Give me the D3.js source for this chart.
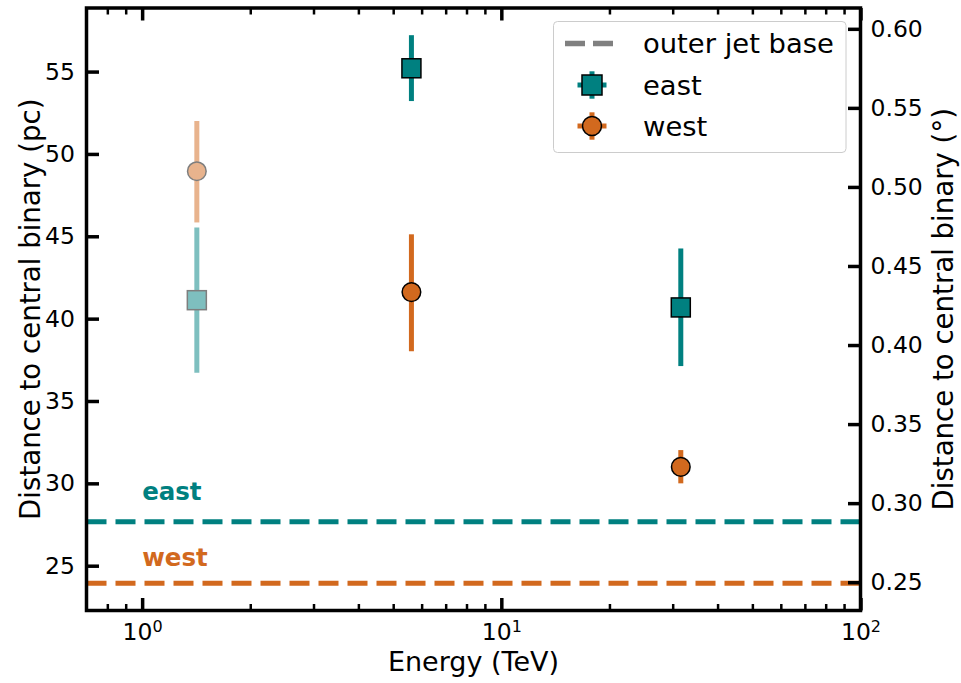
<!DOCTYPE html>
<html>
<head>
<meta charset="utf-8">
<title>Distance to central binary vs energy</title>
<script src="https://d3js.org/d3.v7.min.js"></script>
<style>
  body { margin: 0; background: #fff; }
  text { font-family: "DejaVu Sans", sans-serif; fill: #000; }
</style>
</head>
<body>
<div id="chart"></div>
<script>
// data
var energy   = [1.42, 5.62, 31.6];          // TeV
var eastDist = [41.12, 55.20, 40.68];       // pc
var eastLo   = [36.71, 53.21, 37.12];
var eastHi   = [45.53, 57.21, 44.26];
var westDist = [48.95, 41.61, 31.00];
var westLo   = [45.84, 38.02, 30.00];
var westHi   = [52.00, 45.12, 32.02];
var faded    = [true, false, false];

var jetSides = ["east", "west"];
var jetBase  = [27.67, 23.93];              // pc, outer jet base
var jetLabelY = [29.0, 25.0];

var yTicks   = [25, 30, 35, 40, 45, 50, 55];
var degTicks = [0.25, 0.30, 0.35, 0.40, 0.45, 0.50, 0.55, 0.60];
var xMajor   = [1, 10, 100];
var xMinor   = [0.8, 0.9, 2, 3, 4, 5, 6, 7, 8, 9, 20, 30, 40, 50, 60, 70, 80, 90];
var legendLabels = ["outer jet base", "east", "west"];

var distKpc = 5.5;   // source distance, converts pc to degrees

var colors = { east: "#008080", west: "#d2691e", grey: "#808080" };

var W = 961, H = 683;
var L = 86.5, R = 860.5, T = 8, B = 610.5;

var svg = d3.select("#chart").append("svg")
  .attr("width", W).attr("height", H);

var x = d3.scaleLog().domain([0.7, 100]).range([L, R]);
var y = d3.scaleLinear().domain([22.28, 58.86]).range([B, T]);
var k = 180 / (Math.PI * distKpc * 1000);
var yDeg = d3.scaleLinear().domain([22.28 * k, 58.86 * k]).range([B, T]);

// horizontal outer jet base lines
jetSides.forEach(function (s, i) {
  svg.append("line")
    .attr("x1", L).attr("x2", R)
    .attr("y1", y(jetBase[i])).attr("y2", y(jetBase[i]))
    .attr("stroke", colors[s]).attr("stroke-width", 5)
    .attr("stroke-dasharray", "20,9");
  svg.append("text")
    .attr("x", x(1)).attr("y", y(jetLabelY[i]))
    .style("font-size", "24.5px").style("font-weight", "bold")
    .style("fill", colors[s])
    .text(s);
});

// error bars + markers
function drawSeries(dist, lo, hi, color, shape) {
  energy.forEach(function (e, i) {
    var g = svg.append("g").attr("opacity", faded[i] ? 0.5 : 1);
    g.append("line")
      .attr("x1", x(e)).attr("x2", x(e))
      .attr("y1", y(lo[i])).attr("y2", y(hi[i]))
      .attr("stroke", color).attr("stroke-width", 5);
    if (shape === "square") {
      g.append("rect")
        .attr("x", x(e) - 9.5).attr("y", y(dist[i]) - 9.5)
        .attr("width", 19).attr("height", 19)
        .attr("fill", color).attr("stroke", "#000").attr("stroke-width", 1.5);
    } else {
      g.append("circle")
        .attr("cx", x(e)).attr("cy", y(dist[i])).attr("r", 9.3)
        .attr("fill", color).attr("stroke", "#000").attr("stroke-width", 1.5);
    }
  });
}
drawSeries(eastDist, eastLo, eastHi, colors.east, "square");
drawSeries(westDist, westLo, westHi, colors.west, "circle");

// axes, ticks pointing inward
function styleAxis(g, w) {
  g.select(".domain").remove();
  g.selectAll(".tick line").attr("stroke", "#000").attr("stroke-width", w);
  g.selectAll("text").style("font-size", "23.5px").attr("fill", "#000");
}

var gxMinor = svg.append("g").attr("transform", "translate(0," + B + ")")
  .call(d3.axisBottom(x).tickValues(xMinor).tickSize(-6.5).tickFormat(""));
styleAxis(gxMinor, 2.5);
var gxMinorTop = svg.append("g").attr("transform", "translate(0," + T + ")")
  .call(d3.axisTop(x).tickValues(xMinor).tickSize(-6.5).tickFormat(""));
styleAxis(gxMinorTop, 2.5);

var gx = svg.append("g").attr("transform", "translate(0," + B + ")")
  .call(d3.axisBottom(x).tickValues(xMajor).tickSize(-12.5).tickFormat(""));
styleAxis(gx, 3.5);
gx.selectAll(".tick text").each(function (d) {
  var t = d3.select(this).attr("y", 29.5).attr("dy", null);
  t.append("tspan").style("font-size", "23.5px").text("10");
  t.append("tspan").style("font-size", "16px").attr("dy", -8.5)
    .text(Math.round(Math.log10(d)));
});
var gxTop = svg.append("g").attr("transform", "translate(0," + T + ")")
  .call(d3.axisTop(x).tickValues(xMajor).tickSize(-12.5).tickFormat(""));
styleAxis(gxTop, 3.5);

var gy = svg.append("g").attr("transform", "translate(" + L + ",0)")
  .call(d3.axisLeft(y).tickValues(yTicks).tickSize(-12.5).tickPadding(11.5));
styleAxis(gy, 3.5);

var gyR = svg.append("g").attr("transform", "translate(" + R + ",0)")
  .call(d3.axisRight(yDeg).tickValues(degTicks).tickSize(-12.5).tickPadding(10)
    .tickFormat(d3.format(".2f")));
styleAxis(gyR, 3.5);

// frame
svg.append("rect")
  .attr("x", L).attr("y", T).attr("width", R - L).attr("height", B - T)
  .attr("fill", "none").attr("stroke", "#000").attr("stroke-width", 3.5);

// axis labels
svg.append("text")
  .attr("x", (L + R) / 2).attr("y", 671)
  .attr("text-anchor", "middle").style("font-size", "27px")
  .text("Energy (TeV)");
svg.append("text")
  .attr("transform", "translate(40," + (T + B) / 2 + ") rotate(-90)")
  .attr("text-anchor", "middle").style("font-size", "27.6px")
  .text("Distance to central binary (pc)");
svg.append("text")
  .attr("transform", "translate(953," + (T + B) / 2 + ") rotate(-90)")
  .attr("text-anchor", "middle").style("font-size", "27.6px")
  .text("Distance to central binary (\u00b0)");

// legend
var leg = svg.append("g").attr("transform", "translate(553.5,21.5)");
leg.append("rect")
  .attr("width", 292.5).attr("height", 131).attr("rx", 4)
  .attr("fill", "#fff").attr("fill-opacity", 0.8)
  .attr("stroke", "#cccccc").attr("stroke-width", 1);

var rowY = [22, 63.5, 104.5];
legendLabels.forEach(function (lab, i) {
  var cy = rowY[i];
  if (i === 0) {
    leg.append("line")
      .attr("x1", 11.5).attr("x2", 60.5).attr("y1", cy).attr("y2", cy)
      .attr("stroke", colors.grey).attr("stroke-width", 5.5)
      .attr("stroke-dasharray", "20,8");
  } else {
    var c = i === 1 ? colors.east : colors.west;
    var cx = 38.5;
    leg.append("line").attr("x1", cx).attr("x2", cx).attr("y1", cy - 13.7).attr("y2", cy + 13.7)
      .attr("stroke", c).attr("stroke-width", 5);
    leg.append("line").attr("x1", cx - 14.5).attr("x2", cx + 14.5).attr("y1", cy).attr("y2", cy)
      .attr("stroke", c).attr("stroke-width", 5);
    if (i === 1) {
      leg.append("rect").attr("x", cx - 10).attr("y", cy - 10).attr("width", 20).attr("height", 20)
        .attr("fill", c).attr("stroke", "#000").attr("stroke-width", 1.5);
    } else {
      leg.append("circle").attr("cx", cx).attr("cy", cy).attr("r", 9.5)
        .attr("fill", c).attr("stroke", "#000").attr("stroke-width", 1.5);
    }
  }
  leg.append("text")
    .attr("x", 89.5).attr("y", cy + 9.8)
    .style("font-size", "27.4px")
    .text(lab);
});
</script>
</body>
</html>
